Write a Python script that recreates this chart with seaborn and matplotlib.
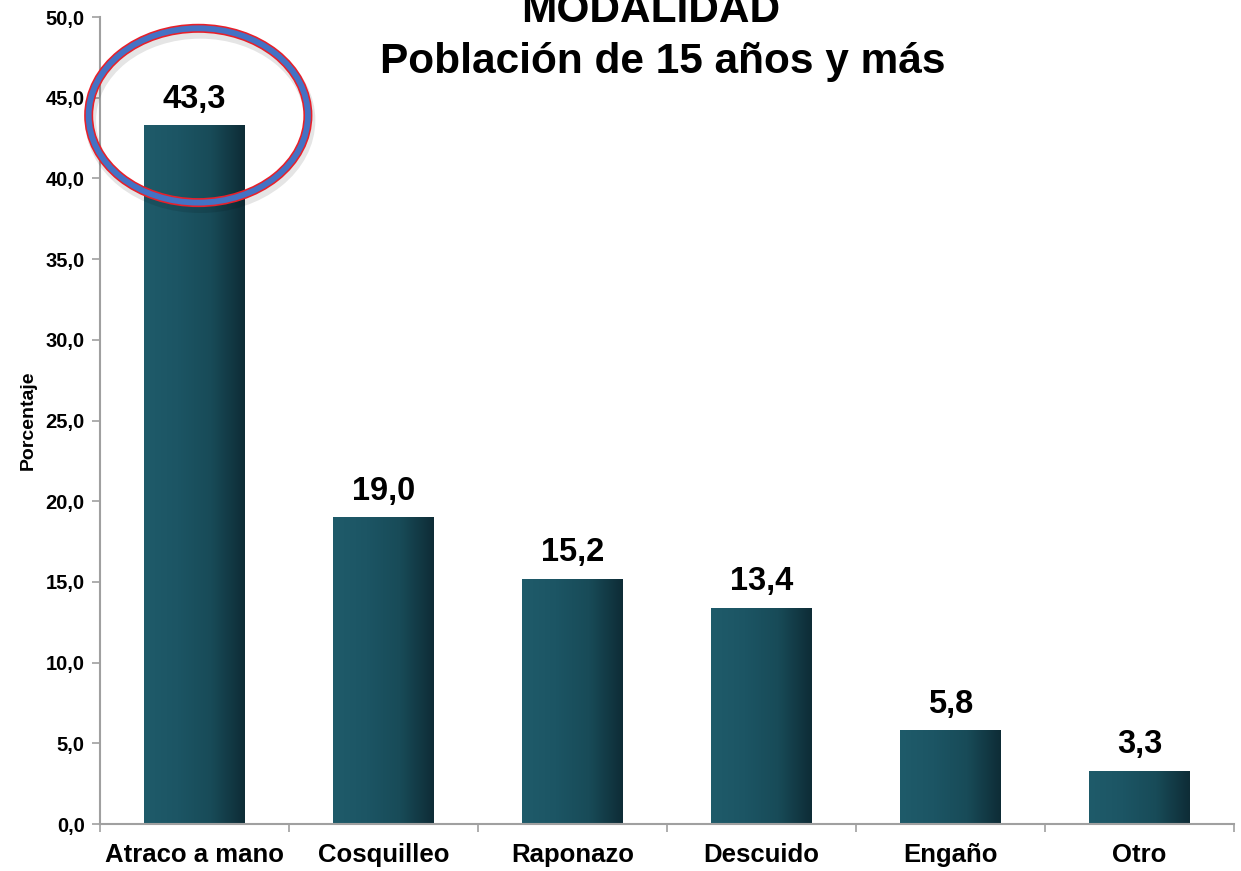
import numpy as np
import pandas as pd
import matplotlib
matplotlib.use("Agg")
import matplotlib.pyplot as plt
import seaborn as sns
from matplotlib.patches import Ellipse
from matplotlib.colors import LinearSegmentedColormap
from matplotlib.ticker import FixedLocator

categories = ["Atraco a mano", "Cosquilleo", "Raponazo", "Descuido", "Engaño", "Otro"]
values = [43.3, 19.0, 15.2, 13.4, 5.8, 3.3]
value_labels = ["43,3", "19,0", "15,2", "13,4", "5,8", "3,3"]
yticks = [0, 5, 10, 15, 20, 25, 30, 35, 40, 45, 50]
ytick_labels = ["0,0", "5,0", "10,0", "15,0", "20,0", "25,0", "30,0", "35,0", "40,0", "45,0", "50,0"]
title_line1 = "MODALIDAD"
title_line2 = "Población de 15 años y más"
ylabel = "Porcentaje"

sns.set_theme(style="white")
plt.rcParams['font.family'] = ['Liberation Sans', 'DejaVu Sans']
plt.rcParams['text.color'] = 'black'
plt.rcParams['xtick.color'] = 'black'
plt.rcParams['ytick.color'] = 'black'
plt.rcParams['axes.labelcolor'] = 'black'

fig = plt.figure(figsize=(12.41, 8.71), dpi=100)
ax = fig.add_axes([100/1241, 47/871, 1134/1241, 807/871])

df = pd.DataFrame({"cat": categories, "val": values})
sns.barplot(data=df, x="cat", y="val", ax=ax, color="#1c5564", width=0.53, saturation=1)

cmap = LinearSegmentedColormap.from_list("g", ["#1f5b6a", "#1c5564", "#184b58", "#0e2c36"])
grad = np.linspace(0, 1, 256).reshape(1, -1)
for p in ax.patches:
    x0, y0 = p.get_x(), p.get_y()
    w, h = p.get_width(), p.get_height()
    im = ax.imshow(grad, cmap=cmap, extent=[x0, x0 + w, y0, y0 + h], aspect="auto", zorder=p.get_zorder() + 0.1)
    im.set_clip_path(p)
    p.set_edgecolor("none")

for i, (v, lab) in enumerate(zip(values, value_labels)):
    ax.text(i, v + 0.65, lab, ha="center", va="bottom", fontsize=23.5, fontweight="bold", color="black")

ax.set_xlim(-0.5, 5.5)
ax.set_ylim(0, 50)
ax.set_yticks(yticks)
ax.set_yticklabels(ytick_labels, fontsize=14.5, fontweight="bold")
ax.set_xticks(range(len(categories)))
ax.set_xticklabels(categories, fontsize=18.5, fontweight="bold")
ax.xaxis.set_minor_locator(FixedLocator([-0.5, 0.5, 1.5, 2.5, 3.5, 4.5, 5.5]))
ax.tick_params(axis="x", which="major", length=0, pad=14)
ax.tick_params(axis="x", which="minor", length=6, width=1.2, color="#a0a0a0", direction="out", bottom=True)
ax.tick_params(axis="y", which="major", length=6, width=1.2, color="#a0a0a0", direction="out", left=True, pad=5)
ax.set_xlabel("")
ax.set_ylabel(ylabel, fontsize=14, fontweight="bold", labelpad=6)
for s in ["top", "right"]:
    ax.spines[s].set_visible(False)
for s in ["left", "bottom"]:
    ax.spines[s].set_color("#a0a0a0")
    ax.spines[s].set_linewidth(1.5)

# highlight ellipse
ecx, ecy, ew, eh = 0.02, 43.9, 1.16, 10.8
shadow = Ellipse((ecx + 0.01, ecy - 0.3), ew, eh, fill=False, lw=8, edgecolor="#000000", alpha=0.10, zorder=5, clip_on=False)
ax.add_patch(shadow)
ax.add_patch(Ellipse((ecx, ecy), ew, eh, fill=False, lw=6.5, edgecolor="#e8202a", zorder=6, clip_on=False))
ax.add_patch(Ellipse((ecx, ecy), ew, eh, fill=False, lw=4.2, edgecolor="#4472c4", zorder=7, clip_on=False))

fig.text(651/1241, 1 - 22/871, title_line1, ha="center", va="baseline", fontsize=30.5, fontweight="bold")
fig.text(663/1241, 1 - 73/871, title_line2, ha="center", va="baseline", fontsize=30.5, fontweight="bold")

fig.savefig("out.png", dpi=100)
